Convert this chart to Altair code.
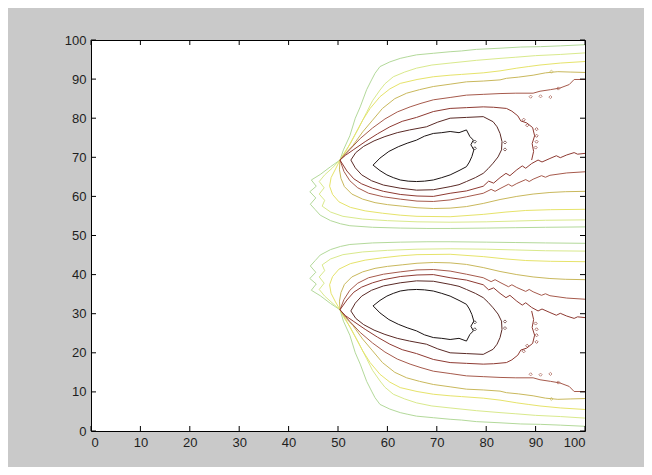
import altair as alt
import pandas as pd

# ---------------- data ----------------
X_TICKS = [0, 10, 20, 30, 40, 50, 60, 70, 80, 90, 100]
Y_TICKS = [0, 10, 20, 30, 40, 50, 60, 70, 80, 90, 100]

LEVEL_NAMES = ["c1", "c2", "c3", "c4", "c5", "c6", "c7", "c8"]
LEVEL_COLORS = ["#b3d99a", "#d9e98c", "#e6e36a", "#c9b85c",
                "#a65a4c", "#8e3a32", "#5a2a26", "#1c1414"]

# upper lobe contours (outermost -> innermost)
UP_C1 = [(100,98.8),(95,98.5),(91,98.3),(87,98.2),(82.8,97.9),(78,97.6),(75,97.2),(72.7,97.0),(69.3,96.6),(65.9,96.2),(64,95.7),(62.6,95.3),(60.5,94.4),(58.5,93.2),(57.5,91.5),(56.8,89.8),(55.8,87.3),(54.5,82.9),(53.5,80),(52.4,75.5),(51.1,71.9),(50.4,69.3),(48.5,67.6),(46.4,65.6),(44.6,64.2),(45.6,62.6),(44.3,61.2),(45.5,59.6),(44.4,58.0),(45.4,56.6),(46.4,55.2),(48.5,53.8),(50.5,53.0),(52.4,52.5),(57,52.1),(62.6,51.9),(68,51.8),(72.7,51.8),(80,51.9),(86,52.0),(92,52.1),(100,52.2)]
UP_C2 = [(100,96.7),(95,96.3),(90,96.0),(86,95.6),(82.8,95.3),(78,94.8),(72.7,94.1),(69,93.6),(65.9,92.8),(63.5,91.8),(61.2,90.6),(59.5,88.8),(58.5,87.2),(57,84.5),(55.8,81.5),(54.2,77.5),(52.5,73.5),(51.2,71),(50.4,69.3),(48.8,67.2),(47.3,65.5),(46.2,63.8),(47.2,62.2),(46.2,60.6),(47.3,59),(46.8,57.5),(48.5,56),(51,54.9),(55,54.2),(60,53.8),(66,53.5),(72.7,53.4),(80,53.5),(86,53.7),(92,53.9),(100,54.0)]
UP_C3 = [(100,94.5),(95,94.1),(90.9,93.6),(88.5,93.2),(86.2,92.8),(82.8,92.1),(79.4,91.6),(75,91.2),(72.7,91.0),(69.3,90.6),(66,89.9),(62.6,88.9),(60.5,87.5),(58.5,85.5),(56.5,82.5),(55,79.5),(53.3,75.5),(51.8,72),(50.4,69.3),(49.5,67),(48.6,64.8),(48.3,62.6),(48.9,60.5),(50.2,58.6),(52.5,57.2),(55.5,56.3),(59,55.7),(62.6,55.2),(66,54.9),(72.7,54.8),(79.4,55.4),(84,56),(88,56.4),(93,56.6),(100,56.7)]
UP_C4 = [(100,91.7),(97,91.8),(94.5,91.9),(92,91.6),(89.5,91.0),(86.5,90.5),(84.1,90.2),(82.8,89.8),(79.4,89.5),(76,89.3),(72.7,88.7),(69.3,88.1),(66.5,87.3),(63.9,86.4),(61.5,85),(59,82.5),(57,79.5),(55,76.5),(53,73),(51.5,71),(50.4,69.3),(50.3,66.8),(50.6,64.6),(51.3,62.5),(52.8,60.6),(55,59.3),(57.5,58.4),(60,57.9),(63,57.5),(66,57.1),(69.3,56.9),(72.7,57.0),(76,57.4),(79.4,58.2),(82.8,59.2),(86.2,60.0),(89.5,60.6),(92.9,61.0),(96,61.2),(100,61.3)]
UP_C5 = [(100,89.9),(97.8,89.9),(96.8,88.6),(94.9,87.7),(93,87.3),(90.9,86.9),(89.5,86.4),(86,86.4),(82.8,86.3),(79.4,86.1),(76,85.9),(72.7,85.3),(69.3,84.7),(66.8,83.8),(64.6,82.9),(62,81.6),(59.5,79.8),(57,77.5),(54.5,74.8),(52.4,72),(50.4,69.3),(51.2,66.4),(52.4,64.0),(54.0,62.2),(56.2,60.8),(59.2,59.9),(62.6,59.3),(66,58.8),(69.3,58.7),(72.7,59.1),(76,59.9),(79.4,60.8),(81,61.8),(81.8,61.3),(82.8,62.0),(84.5,63.1),(85.2,62.6),(86.2,63.3),(88,64.3),(88.7,63.8),(89.5,64.4),(91.2,65.3),(92,64.9),(92.9,65.4),(96.3,66.0),(100,66.3)]
UP_C6 = [(89.2,69.3),(89.6,71.5),(89.3,73.5),(89.8,75.5),(89.4,77.6),(88.2,78.8),(87,79.3),(86.4,80.6),(85.2,81.8),(84.1,82.5),(81.5,82.8),(79.4,82.9),(76,82.7),(72.7,82.5),(69.3,81.7),(65.9,80.2),(63,79.2),(60.5,77.8),(58,76),(55.5,74),(53.2,72),(51.5,70.5),(50.4,69.3),(51.8,66.5),(53.2,64.5),(54.8,63.2),(57,62.1),(59.2,61.3),(62.6,60.5),(66,60.1),(69.3,60.0),(72.7,60.8),(76,61.4),(79.4,62.6),(80.5,63.9),(81.5,63.4),(82.8,64.8),(84,65.9),(84.8,65.3),(86.2,66.8),(87.3,67.8),(88,67.2),(89.2,68.4),(90.5,69.3),(91.3,68.8),(92.9,69.7),(94.2,70.4),(95,69.9),(96.3,70.6),(97.8,71.2),(98.5,70.8),(100,71.0)]
UP_C7 = [(52.6,69.3),(53.6,71.2),(55.2,72.8),(57.3,74.2),(59.5,75.3),(62,76.3),(64.5,77.0),(67.9,77.8),(70.2,79.0),(72.7,80.0),(76,80.2),(79.4,80.4),(81.4,79.1),(82.2,77.8),(82.8,76.1),(83.2,74.0),(83.1,71.9),(82.4,70.1),(81.4,68.5),(80.4,67.1),(79.4,65.9),(77.8,64.8),(76,63.8),(74.5,63.0),(72.7,62.5),(69.3,61.7),(65.9,61.6),(62.6,62.1),(59.2,62.9),(56.8,64.0),(54.8,65.5),(53.5,67.3),(52.6,69.3)]
UP_C8 = [(57.1,68.0),(58.5,69.8),(60.3,71.5),(62.2,72.7),(64,73.6),(65.9,74.4),(67.5,75.4),(69.3,76.1),(71,76.3),(72.7,76.6),(74.5,76.3),(76,77.0),(76.7,75.3),(77.4,74.4),(76.9,73.2),(77.5,71.9),(77.1,70.2),(76.6,68.8),(76,67.6),(74.5,66.6),(72.7,65.5),(71,64.8),(69.3,64.2),(67.5,63.9),(65.9,63.8),(64.2,63.9),(62.6,64.2),(61.2,64.8),(59.9,65.5),(58.5,66.6),(57.1,68.0)]

# lower lobe contours (outermost -> innermost)
LOW_C1 = [(100,1.2),(95,1.5),(91,1.7),(87,1.8),(82.8,2.1),(78,2.4),(75,2.8),(72.7,3.0),(69.3,3.4),(65.9,3.8),(64,4.3),(62.6,4.7),(60.5,5.6),(58.5,6.8),(57.5,8.5),(56.8,10.2),(55.8,12.7),(54.5,17.1),(53.5,20),(52.4,24.5),(51.1,28.1),(50.4,31.0),(48.5,32.6),(46.4,34.6),(44.6,36.0),(45.6,37.6),(44.3,39.0),(45.5,40.6),(44.4,42.2),(45.4,43.6),(46.4,45.0),(48.5,46.4),(50.5,47.2),(52.4,47.7),(57,48.1),(62.6,48.3),(68,48.4),(72.7,48.4),(80,48.3),(86,48.2),(92,48.1),(100,48.0)]
LOW_C2 = [(100,3.3),(95,3.7),(90,4.0),(86,4.4),(82.8,4.7),(78,5.2),(72.7,5.9),(69,6.4),(65.9,7.2),(63.5,8.2),(61.2,9.4),(59.5,11.2),(58.5,12.8),(57,15.5),(55.8,18.5),(54.2,22.5),(52.5,26.5),(51.2,29),(50.4,31.0),(48.8,32.8),(47.3,34.5),(46.2,36.2),(47.2,37.8),(46.2,39.4),(47.3,41),(46.8,42.5),(48.5,44),(51,45.1),(55,45.8),(60,46.2),(66,46.5),(72.7,46.6),(80,46.5),(86,46.3),(92,46.1),(100,46.0)]
LOW_C3 = [(100,5.5),(95,5.9),(90.9,6.4),(88.5,6.8),(86.2,7.2),(82.8,7.9),(79.4,8.4),(75,8.8),(72.7,9.0),(69.3,9.4),(66,10.1),(62.6,11.1),(60.5,12.5),(58.5,14.5),(56.5,17.5),(55,20.5),(53.3,24.5),(51.8,28),(50.4,31.0),(49.5,33),(48.6,35.2),(48.3,37.4),(48.9,39.5),(50.2,41.4),(52.5,42.8),(55.5,43.7),(59,44.3),(62.6,44.8),(66,45.1),(72.7,45.2),(79.4,44.6),(84,44),(88,43.6),(93,43.4),(100,43.3)]
LOW_C4 = [(100,8.3),(97,8.2),(94.5,8.1),(92,8.4),(89.5,9.0),(86.5,9.5),(84.1,9.8),(82.8,10.2),(79.4,10.5),(76,10.7),(72.7,11.3),(69.3,11.9),(66.5,12.7),(63.9,13.6),(61.5,15),(59,17.5),(57,20.5),(55,23.5),(53,27),(51.5,29),(50.4,31.0),(50.3,33.2),(50.6,35.4),(51.3,37.5),(52.8,39.4),(55,40.7),(57.5,41.6),(60,42.1),(63,42.5),(66,42.9),(69.3,43.1),(72.7,43.0),(76,42.6),(79.4,41.8),(82.8,40.8),(86.2,40.0),(89.5,39.4),(92.9,39.0),(96,38.8),(100,38.7)]
LOW_C5 = [(100,10.1),(97.8,10.1),(96.8,11.4),(94.9,12.3),(93,12.7),(90.9,13.1),(89.5,13.6),(86,13.6),(82.8,13.7),(79.4,13.9),(76,14.1),(72.7,14.7),(69.3,15.3),(66.8,16.2),(64.6,17.1),(62,18.4),(59.5,20.2),(57,22.5),(54.5,25.2),(52.4,28),(50.4,31.0),(51.2,33.6),(52.4,36.0),(54.0,37.8),(56.2,39.2),(59.2,40.1),(62.6,40.7),(66,41.2),(69.3,41.3),(72.7,40.9),(76,40.1),(79.4,39.2),(81,38.2),(81.8,38.7),(82.8,38.0),(84.5,36.9),(85.2,37.4),(86.2,36.7),(88,35.7),(88.7,36.2),(89.5,35.6),(91.2,34.7),(92,35.1),(92.9,34.6),(96.3,34.0),(100,33.7)]
LOW_C6 = [(89.2,30.7),(89.6,28.5),(89.3,26.5),(89.8,24.5),(89.4,22.4),(88.2,21.2),(87,20.7),(86.4,19.4),(85.2,18.2),(84.1,17.5),(81.5,17.2),(79.4,17.1),(76,17.3),(72.7,17.5),(69.3,18.3),(65.9,19.8),(63,20.8),(60.5,22.2),(58,24),(55.5,26),(53.2,28),(51.5,29.5),(50.4,31.0),(51.8,33.5),(53.2,35.5),(54.8,36.8),(57,37.9),(59.2,38.7),(62.6,39.5),(66,39.9),(69.3,40.0),(72.7,39.2),(76,38.6),(79.4,37.4),(80.5,36.1),(81.5,36.6),(82.8,35.2),(84,34.1),(84.8,34.7),(86.2,33.2),(87.3,32.2),(88,32.8),(89.2,31.6),(90.5,30.7),(91.3,31.2),(92.9,30.3),(94.2,29.6),(95,30.1),(96.3,29.4),(97.8,28.8),(98.5,29.2),(100,29.0)]
LOW_C7 = [(52.6,30.7),(53.6,28.8),(55.2,27.2),(57.3,25.8),(59.5,24.7),(62,23.7),(64.5,23.0),(67.9,22.2),(70.2,21.0),(72.7,20.0),(76,19.8),(79.4,19.6),(81.4,20.9),(82.2,22.2),(82.8,23.9),(83.2,26.0),(83.1,28.1),(82.4,29.9),(81.4,31.5),(80.4,32.9),(79.4,34.1),(77.8,35.2),(76,36.2),(74.5,37.0),(72.7,37.5),(69.3,38.3),(65.9,38.4),(62.6,37.9),(59.2,37.1),(56.8,36.0),(54.8,34.5),(53.5,32.7),(52.6,30.7)]
LOW_C8 = [(57.1,32.0),(58.5,30.2),(60.3,28.5),(62.2,27.3),(64,26.4),(65.9,25.6),(67.5,24.6),(69.3,23.9),(71,23.7),(72.7,23.4),(74.5,23.7),(76,23.0),(76.7,24.7),(77.4,25.6),(76.9,26.8),(77.5,28.1),(77.1,29.8),(76.6,31.2),(76,32.4),(74.5,33.4),(72.7,34.5),(71,35.2),(69.3,35.8),(67.5,36.1),(65.9,36.2),(64.2,36.1),(62.6,35.8),(61.2,35.2),(59.9,34.5),(58.5,33.4),(57.1,32.0)]

# tiny closed contour islands (x, y, level)
BLOBS = [(77.7,74.0,"c8"),(77.7,72.3,"c8"),(83.8,73.8,"c7"),(83.8,72.0,"c7"),
         (87.6,79.6,"c6"),(88.3,78.2,"c6"),(90.2,77.2,"c6"),(90.2,75.5,"c6"),(90.2,74.0,"c6"),(90.0,72.5,"c6"),
         (89.0,85.5,"c5"),(91.0,85.6,"c5"),(93.0,85.4,"c5"),(94.6,87.6,"c5"),(93.2,91.9,"c4"),
         (77.7,26.0,"c8"),(77.7,27.8,"c8"),(83.8,26.3,"c7"),(83.8,28.0,"c7"),
         (87.6,20.4,"c6"),(88.3,21.8,"c6"),(90.2,22.8,"c6"),(90.2,24.5,"c6"),(90.2,26.0,"c6"),(90.0,27.5,"c6"),
         (89.0,14.5,"c5"),(91.0,14.4,"c5"),(93.0,14.6,"c5"),(94.6,12.4,"c5"),(93.2,8.2,"c4")]

CONTOURS = [
    ("u1", "c1", UP_C1), ("u2", "c2", UP_C2), ("u3", "c3", UP_C3), ("u4", "c4", UP_C4),
    ("u5", "c5", UP_C5), ("u6", "c6", UP_C6), ("u7", "c7", UP_C7), ("u8", "c8", UP_C8),
    ("l1", "c1", LOW_C1), ("l2", "c2", LOW_C2), ("l3", "c3", LOW_C3), ("l4", "c4", LOW_C4),
    ("l5", "c5", LOW_C5), ("l6", "c6", LOW_C6), ("l7", "c7", LOW_C7), ("l8", "c8", LOW_C8),
]

# ---------------- build tables ----------------
rows = []
for seg, lvl, pts in CONTOURS:
    for i, (x, y) in enumerate(pts):
        rows.append({"x": x, "y": y, "seg": seg, "level": lvl, "order": i})
df = pd.DataFrame(rows)
blob_df = pd.DataFrame(BLOBS, columns=["x", "y", "level"])
xt_df = pd.DataFrame({"x": X_TICKS})
yt_df = pd.DataFrame({"y": Y_TICKS})

W, H = 494, 391
FONT = "Liberation Sans"

xs = alt.Scale(domain=[0, 100], nice=False, zero=False)
ys = alt.Scale(domain=[0, 100], nice=False, zero=False)
cs = alt.Scale(domain=LEVEL_NAMES, range=LEVEL_COLORS)

x_axis = alt.Axis(values=X_TICKS, title=None, grid=False, ticks=False, domain=False,
                  labelFont=FONT, labelFontSize=13, labelColor="#1e1e1e", labelPadding=5)
y_axis = alt.Axis(values=Y_TICKS, title=None, grid=False, ticks=False, domain=False,
                  labelFont=FONT, labelFontSize=13, labelColor="#1e1e1e", labelPadding=5)

X = alt.X("x:Q", scale=xs, axis=x_axis)
Y = alt.Y("y:Q", scale=ys, axis=y_axis)

lines = alt.Chart(df).mark_line(strokeWidth=1, clip=True, interpolate="linear").encode(
    x=X, y=Y,
    detail="seg:N",
    order="order:Q",
    color=alt.Color("level:N", scale=cs, legend=None),
)

blobs = alt.Chart(blob_df).mark_point(shape="diamond", size=10, filled=False, strokeWidth=1, clip=True).encode(
    x=X, y=Y,
    color=alt.Color("level:N", scale=cs, legend=None),
)

tick_bottom = alt.Chart(xt_df).mark_rule(color="#000", strokeWidth=1).encode(
    x=X, y=alt.value(H), y2=alt.value(H - 5))
tick_top = alt.Chart(xt_df).mark_rule(color="#000", strokeWidth=1).encode(
    x=X, y=alt.value(0), y2=alt.value(5))
tick_left = alt.Chart(yt_df).mark_rule(color="#000", strokeWidth=1).encode(
    y=Y, x=alt.value(0), x2=alt.value(5))
tick_right = alt.Chart(yt_df).mark_rule(color="#000", strokeWidth=1).encode(
    y=Y, x=alt.value(W - 5), x2=alt.value(W))

chart = alt.layer(lines, blobs, tick_bottom, tick_top, tick_left, tick_right).properties(
    width=W, height=H,
    background="#c9c9c9",
    autosize=alt.AutoSizeParams(type="none"),
    padding={"left": 83, "top": 32, "right": 59, "bottom": 36},
).configure_view(
    stroke="#000", strokeWidth=1, fill="#ffffff"
)

chart.save("out.html", embed_options={"renderer": "svg", "actions": False})
